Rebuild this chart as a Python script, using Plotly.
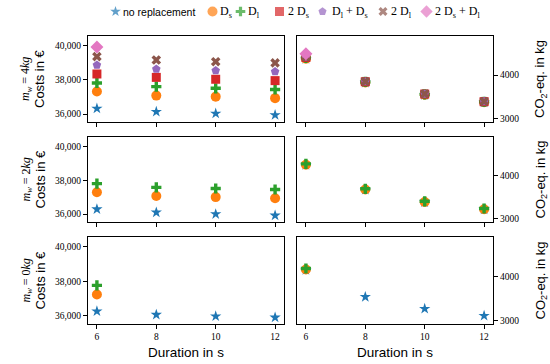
import plotly.graph_objects as go

# ---------------- data ----------------
durations = [6, 8, 10, 12]
mass_labels = ["4", "2", "0"]

series_names = ["no replacement", "D<sub>s</sub>", "D<sub>l</sub>", "2 D<sub>s</sub>",
                "D<sub>l</sub> + D<sub>s</sub>", "2 D<sub>l</sub>", "2 D<sub>s</sub> + D<sub>l</sub>"]
series_colors = ["#1f77b4", "#ff7f0e", "#2ca02c", "#d62728", "#9467bd", "#8c564b", "#e377c2"]
series_symbols = ["star", "circle", "cross", "square", "pentagon", "x", "diamond"]
series_sizes = [8.5, 10, 8.5, 9, 9, 8.5, 10]

# costs in EUR
cost_4kg_none = [36320, 36130, 36030, 35940]
cost_4kg_ds = [37320, 37080, 37020, 36930]
cost_4kg_dl = [37820, 37610, 37510, 37440]
cost_4kg_2ds = [38350, 38150, 38040, 37960]
cost_4kg_dlds = [38870, 38640, 38550, 38490]
cost_4kg_2dl = [39370, 39170, 39070, 39000]
cost_4kg_2dsdl = [39940, None, None, None]

cost_2kg_none = [36290, 36100, 36000, 35920]
cost_2kg_ds = [37300, 37070, 37010, 36940]
cost_2kg_dl = [37810, 37590, 37520, 37460]

cost_0kg_none = [36270, 36070, 35980, 35910]
cost_0kg_ds = [37240, None, None, None]
cost_0kg_dl = [37770, None, None, None]

# CO2-eq in kg
co2_4kg_none = [4370, 3830, 3550, 3378]
co2_4kg_ds = [4376, 3835, 3553, 3380]
co2_4kg_dl = [4395, 3845, 3562, 3390]
co2_4kg_2ds = [4405, 3850, 3568, 3395]
co2_4kg_dlds = [4410, 3852, 3570, 3397]
co2_4kg_2dl = [4414, 3855, 3572, 3400]
co2_4kg_2dsdl = [4489, None, None, None]

co2_2kg_none = [4250, 3675, 3388, 3220]
co2_2kg_ds = [4255, 3680, 3392, 3225]
co2_2kg_dl = [4273, 3697, 3409, 3242]

co2_0kg_none = [4150, 3542, 3275, 3115]
co2_0kg_ds = [4160, None, None, None]
co2_0kg_dl = [4183, None, None, None]

cost_rows = [
    [cost_4kg_none, cost_4kg_ds, cost_4kg_dl, cost_4kg_2ds, cost_4kg_dlds, cost_4kg_2dl, cost_4kg_2dsdl],
    [cost_2kg_none, cost_2kg_ds, cost_2kg_dl],
    [cost_0kg_none, cost_0kg_ds, cost_0kg_dl],
]
co2_rows = [
    [co2_4kg_none, co2_4kg_ds, co2_4kg_dl, co2_4kg_2ds, co2_4kg_dlds, co2_4kg_2dl, co2_4kg_2dsdl],
    [co2_2kg_none, co2_2kg_ds, co2_2kg_dl],
    [co2_0kg_none, co2_0kg_ds, co2_0kg_dl],
]

cost_ticks = [36000, 38000, 40000]
co2_ticks = [3000, 4000]

# ---------------- figure ----------------
W, H = 550, 364
ML = 88
MR = W - 493
MT = 0
MB = H - 324
PW = W - ML - MR
PH = H - MT - MB

def ydom(top_px, bot_px):
    return [(H - MB - bot_px) / PH, (H - MB - top_px) / PH]

def xpaper(px):
    return (px - ML) / PW

x_dom = [[0, xpaper(284)], [xpaper(297), 1]]
y_dom = [ydom(36, 122), ydom(137, 222), ydom(237, 324)]

SERIF = "Liberation Serif"
SANS = "Liberation Sans"
NBSP = "\u00a0"

fig = go.Figure()

def ax_name(r, c):
    i = r * 2 + c + 1
    return ("x" if i == 1 else f"x{i}"), ("y" if i == 1 else f"y{i}")

for r in range(3):
    for c, rows in enumerate([cost_rows, co2_rows]):
        xa, ya = ax_name(r, c)
        for k, vals in enumerate(rows[r]):
            fig.add_trace(go.Scatter(
                x=durations, y=vals, mode="markers", xaxis=xa, yaxis=ya,
                showlegend=False, cliponaxis=False,
                marker=dict(symbol=series_symbols[k], color=series_colors[k],
                            size=series_sizes[k], line=dict(width=0)),
                hoverinfo="x+y", name=series_names[k],
            ))

layout = dict(
    width=W, height=H,
    margin=dict(l=ML, r=MR, t=MT, b=MB, pad=0),
    paper_bgcolor="white", plot_bgcolor="rgba(0,0,0,0)",
    showlegend=False,
    font=dict(family=SERIF, size=9.5, color="black"),
)

axis_common = dict(showline=True, linecolor="black", linewidth=1, mirror=True,
                   ticks="outside", ticklen=4, tickwidth=0.8, tickcolor="black",
                   showgrid=False, zeroline=False,
                   tickfont=dict(family=SERIF, size=9.5, color="black"))

for r in range(3):
    for c in range(2):
        i = r * 2 + c + 1
        xk = "xaxis" if i == 1 else f"xaxis{i}"
        yk = "yaxis" if i == 1 else f"yaxis{i}"
        xa, ya = ax_name(r, c)
        layout[xk] = dict(axis_common, domain=x_dom[c], anchor=ya, range=[5.7, 12.3],
                          tickvals=durations, showticklabels=(r == 2))
        if r == 2:
            layout[xk]["title"] = dict(text="Duration in s", font=dict(family=SANS, size=13.5),
                                       standoff=6)
        if c == 0:
            layout[yk] = dict(axis_common, domain=y_dom[r], anchor=xa, range=[35530, 40580],
                              tickvals=cost_ticks, tickformat=",d", side="left",
                              ticksuffix=NBSP * 4)
        else:
            layout[yk] = dict(axis_common, domain=y_dom[r], anchor=xa, range=[2930, 4895],
                              tickvals=co2_ticks, tickformat="d", side="right",
                              tickprefix=NBSP * 2)

# legend drawn on a helper axis mapped to page pixels over the whole plotting area
layout["xaxis7"] = dict(domain=[0, 1], range=[ML, W - MR], visible=False, fixedrange=True,
                        anchor="y7")
layout["yaxis7"] = dict(domain=[0, 1], range=[H - MB, MT], visible=False, fixedrange=True,
                        anchor="x7")

legend_marker_x = [115.5, 212.5, 240.5, 279.5, 322.5, 383.0, 426.5]
legend_text_x = [120.5, 217.5, 246.0, 286.0, 330.0, 388.5, 433.0]
legend_y = 11.5
legend_sizes = [8, 10, 8, 9, 8.5, 8, 9.5]

fig.add_trace(go.Scatter(
    x=legend_marker_x, y=[legend_y] * 7, mode="markers", xaxis="x7", yaxis="y7",
    showlegend=False, cliponaxis=False, hoverinfo="skip",
    marker=dict(symbol=series_symbols, color=series_colors, size=legend_sizes, line=dict(width=0)),
))

annotations = []
for k in range(7):
    annotations.append(dict(
        x=legend_text_x[k], y=legend_y, xref="x7", yref="y7", xanchor="left", yanchor="middle",
        text=series_names[k], showarrow=False,
        font=dict(family=SANS if k == 0 else SERIF, size=10.5 if k == 0 else 12, color="black"),
    ))

for r in range(3):
    yc = (y_dom[r][0] + y_dom[r][1]) / 2
    annotations.append(dict(
        x=xpaper(26), y=yc, xref="paper", yref="paper", xanchor="center", yanchor="middle",
        text=f"<i>m</i><sub><i>w</i></sub> = {mass_labels[r]}<i>kg</i>", textangle=-90,
        showarrow=False, font=dict(family=SERIF, size=12, color="black"),
    ))
    annotations.append(dict(
        x=xpaper(40), y=yc, xref="paper", yref="paper", xanchor="center", yanchor="middle",
        text="Costs in €", textangle=-90, showarrow=False,
        font=dict(family=SANS, size=13, color="black"),
    ))
    annotations.append(dict(
        x=xpaper(541), y=yc, xref="paper", yref="paper", xanchor="center", yanchor="middle",
        text="CO<sub>2</sub>-eq. in kg", textangle=-90, showarrow=False,
        font=dict(family=SANS, size=13, color="black"),
    ))

layout["annotations"] = annotations
fig.update_layout(**layout)

fig.write_html("out.html", config={"displayModeBar": False},
               post_script="document.body.style.margin='0';document.body.style.overflow='hidden';")
